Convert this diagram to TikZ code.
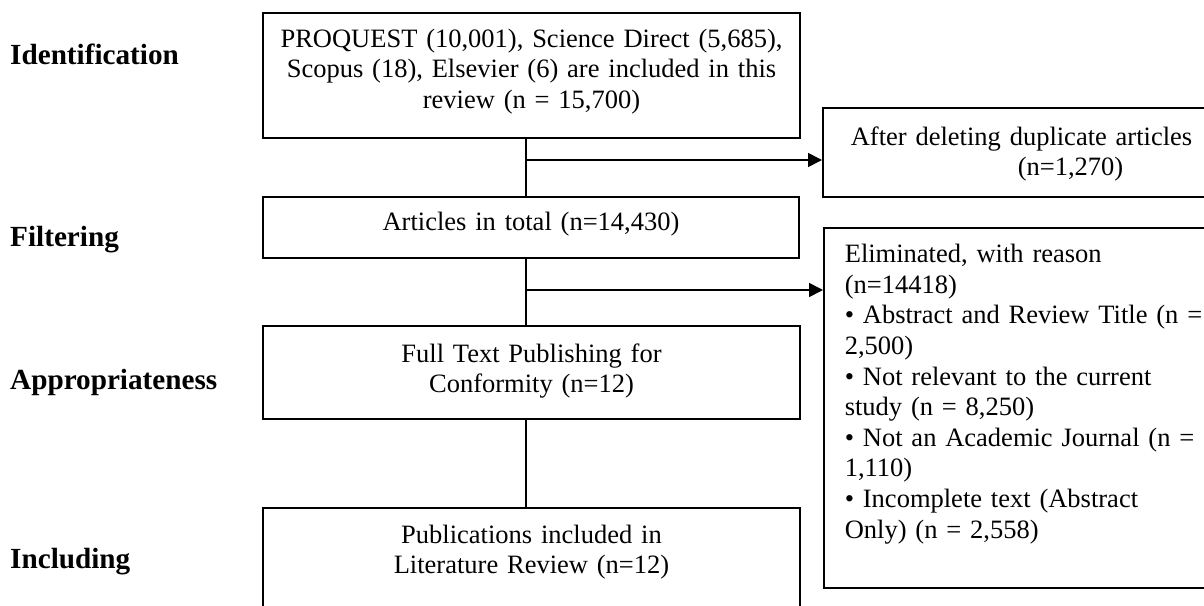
\documentclass[tikz,border=0pt]{standalone}
\usepackage{fontspec}
\setmainfont{Liberation Serif}
\usetikzlibrary{arrows.meta}
\begin{document}
\begin{tikzpicture}[x=1pt,y=-1pt,
  every node/.style={inner sep=0pt, font=\fontsize{26.5}{30.6}\selectfont},
  box/.style={draw, line width=1.6pt},
  stage/.style={anchor=base west, font=\fontsize{29.2}{35}\selectfont\bfseries},
  link/.style={line width=1.6pt},
  arr/.style={link, -{Triangle[length=14pt,width=14pt]}}]
\useasboundingbox (0,0) rectangle (1204,605);

% stage labels
\node[stage] (sid)  at (10,64)  {Identification};
\node[stage] (sfil) at (10,246) {Filtering};
\node[stage] (sapp) at (10,389) {Appropriateness};
\node[stage] (sinc) at (10,568) {Including};

% main column
\node[box, align=center, minimum width=537pt, minimum height=125pt, text width=520pt,
      text height=20pt, text depth=77pt] (b1) at (531.5,75.5)
  {PROQUEST (10,001), Science Direct (5,685),\\ Scopus (18), Elsevier (6) are included in this\\ review (n = 15,700)};
\node[box, align=center, minimum width=536pt, minimum height=61pt, text width=520pt,
      text height=20pt, text depth=15pt] (b2) at (531,227.5)
  {Articles in total (n=14,430)};
\node[box, align=center, minimum width=537pt, minimum height=93pt, text width=520pt,
      text height=20pt, text depth=41pt] (b3) at (531.5,372.5)
  {Full Text Publishing for\\ Conformity (n=12)};
\node[box, align=center, minimum width=537pt, minimum height=132pt, text width=520pt,
      text height=20pt, text depth=82pt] (b4) at (531.5,574)
  {Publications included in\\ Literature Review (n=12)};

% side boxes
\node[box, align=left, anchor=west, inner xsep=28pt, minimum height=89pt, text width=360pt,
      text height=20pt, text depth=35pt] (r1) at (822,152.5)
  {After deleting duplicate articles\\ \hspace*{167pt}(n=1,270)};
\node[box, align=left, anchor=west, inner xsep=21pt, minimum height=360pt, text width=400pt,
      text height=20pt, text depth=310.6pt] (r2) at (823,408)
  {Eliminated, with reason\\
   (n=14418)\\
   • Abstract and Review Title (n =\\
   2,500)\\
   • Not relevant to the current\\
   study (n = 8,250)\\
   • Not an Academic Journal (n =\\
   1,110)\\
   • Incomplete text (Abstract\\
   Only) (n = 2,558)};

% connectors
\coordinate (j1) at (526,160);
\coordinate (j2) at (526,290);
\draw[link] (b1.south -| j1) -- (b2.north -| j1);
\draw[arr]  (j1) -- (j1 -| r1.west);
\draw[link] (b2.south -| j2) -- (b3.north -| j2);
\draw[arr]  (j2) -- (j2 -| r2.west);
\draw[link] (b3.south -| j2) -- (b4.north -| j2);
\end{tikzpicture}
\end{document}
